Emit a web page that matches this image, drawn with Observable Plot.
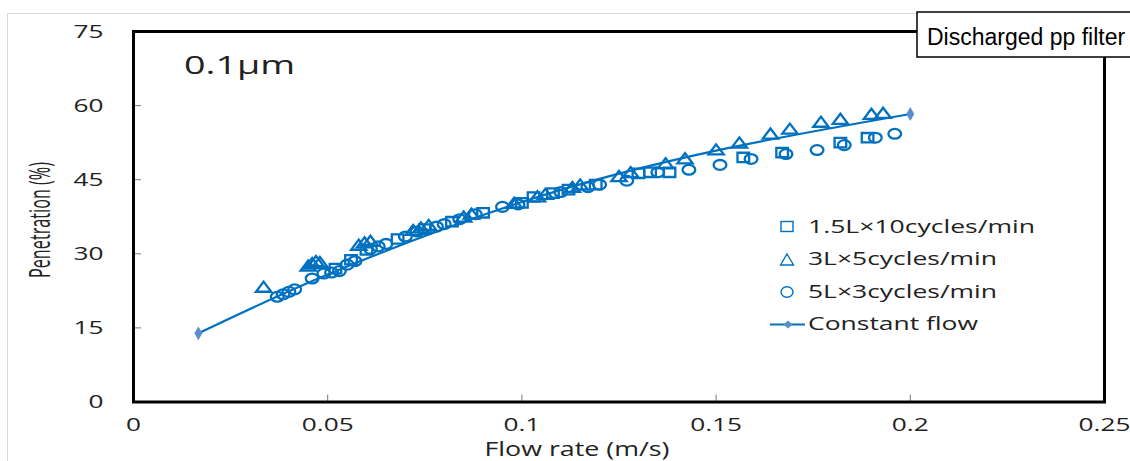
<!DOCTYPE html>
<html>
<head>
<meta charset="utf-8">
<script src="https://cdn.jsdelivr.net/npm/d3@7"></script>
<script src="https://cdn.jsdelivr.net/npm/@observablehq/plot@0.6"></script>
<style>
  body { margin: 0; background: #fff; }
  #wrap { position: relative; width: 1130px; height: 461px; overflow: hidden; background: #fff; }
  #chart { position: absolute; left: 0; top: 0; }
  #overlay { position: absolute; left: 0; top: 0; pointer-events: none; }
</style>
</head>
<body>
<div id="wrap">
  <div id="chart"></div>
  <svg id="overlay" width="1130" height="461"></svg>
</div>
<script>
// ---- data ----
const seriesNames = ["1.5L×10cycles/min", "3L×5cycles/min", "5L×3cycles/min", "Constant flow"];

const flowSquare = [0.052, 0.056, 0.060, 0.068, 0.075, 0.082, 0.090, 0.100, 0.103, 0.108, 0.112, 0.119, 0.130, 0.133, 0.138, 0.157, 0.167, 0.182, 0.189];
const penSquare  = [27.0, 28.8, 30.8, 33.0, 35.0, 36.5, 38.3, 40.3, 41.5, 42.3, 43.0, 44.0, 46.3, 46.5, 46.5, 49.5, 50.5, 52.5, 53.5];

const flowTriangle = [0.0335, 0.045, 0.046, 0.047, 0.048, 0.058, 0.0595, 0.061, 0.072, 0.074, 0.076, 0.085, 0.087, 0.098, 0.104, 0.106, 0.113, 0.115, 0.125, 0.128, 0.137, 0.142, 0.150, 0.156, 0.164, 0.169, 0.177, 0.182, 0.190, 0.193];
const penTriangle  = [23.0, 27.3, 27.8, 28.2, 28.0, 31.5, 32.0, 32.3, 34.5, 35.0, 35.5, 37.2, 37.8, 40.0, 41.3, 41.8, 43.2, 43.7, 45.4, 46.2, 48.0, 49.0, 50.8, 52.2, 54.0, 55.0, 56.4, 57.0, 58.0, 58.2];

const flowCircle = [0.037, 0.0385, 0.040, 0.0415, 0.046, 0.049, 0.051, 0.053, 0.055, 0.057, 0.061, 0.063, 0.065, 0.070, 0.073, 0.078, 0.080, 0.084, 0.088, 0.095, 0.099, 0.110, 0.117, 0.120, 0.127, 0.135, 0.143, 0.151, 0.159, 0.168, 0.176, 0.183, 0.191, 0.196];
const penCircle  = [21.3, 21.8, 22.3, 22.8, 25.0, 26.0, 26.2, 26.5, 27.8, 28.5, 31.0, 31.5, 32.0, 33.5, 34.5, 35.5, 36.0, 37.0, 38.0, 39.5, 40.0, 42.5, 43.5, 44.0, 44.8, 46.5, 47.0, 48.0, 49.2, 50.2, 51.0, 52.0, 53.5, 54.3];

const flowConstant = [0.0167, 0.05, 0.10, 0.15, 0.20];
const penConstant  = [13.9, 25.8, 40.5, 50.9, 58.3];

const xTicks = [0, 0.05, 0.1, 0.15, 0.2, 0.25];
const yTicks = [0, 15, 30, 45, 60, 75];

const xTitle = "Flow rate (m/s)";
const yTitle = "Penetration (%)";
const sizeLabel = "0.1μm";
const boxLabel = "Discharged pp filter";

// ---- build tables ----
const zip = (xs, ys) => xs.map((x, i) => ({x, y: ys[i]}));
const squares = zip(flowSquare, penSquare);
const triangles = zip(flowTriangle, penTriangle);
const circles = zip(flowCircle, penCircle);
const constant = zip(flowConstant, penConstant);

const BLUE = "#0070C0";
const DIAMOND = "#5B8FC9";
const STRETCH = 1.38;
const SX = 1.3; // horizontal stretch of marker shapes, as in the reference

// horizontally stretched symbols
const K = 0.5522847;
const ellipseSym = {draw(ctx, size) {
  const r = Math.sqrt(size / Math.PI), rx = r * SX, ry = r;
  ctx.moveTo(rx, 0);
  ctx.bezierCurveTo(rx, K * ry, K * rx, ry, 0, ry);
  ctx.bezierCurveTo(-K * rx, ry, -rx, K * ry, -rx, 0);
  ctx.bezierCurveTo(-rx, -K * ry, -K * rx, -ry, 0, -ry);
  ctx.bezierCurveTo(K * rx, -ry, rx, -K * ry, rx, 0);
  ctx.closePath();
}};
const squareSym = {draw(ctx, size) {
  const h = Math.sqrt(size) / 2, w = h * SX * 0.95;
  ctx.moveTo(-w, -h); ctx.lineTo(w, -h); ctx.lineTo(w, h); ctx.lineTo(-w, h); ctx.closePath();
}};
const triangleSym = {draw(ctx, size) {
  const s = Math.sqrt(size / (Math.sqrt(3) / 4)); // side of equilateral
  const h = s * Math.sqrt(3) / 2 * 0.8, w = s / 2 * 1.05;
  ctx.moveTo(0, -h * 2 / 3); ctx.lineTo(w, h / 3); ctx.lineTo(-w, h / 3); ctx.closePath();
}};

const plot = Plot.plot({
  width: 1130,
  height: 461,
  marginLeft: 133,
  marginRight: 26,
  marginTop: 31,
  marginBottom: 59.5,
  style: {fontFamily: "'Open Sans', sans-serif", fontSize: "19px", color: "#222", background: "transparent"},
  x: {domain: [0, 0.25]},
  y: {domain: [0, 75]},
  marks: [
    Plot.axisX({ticks: xTicks, tickSize: 0, tickPadding: 15, tickFormat: d => String(d), label: null}),
    Plot.axisY({ticks: yTicks, tickSize: 0, tickPadding: 30, tickFormat: d => String(d), label: null}),
    Plot.axisX({ticks: xTicks.slice(1, -1), tickSize: -7, stroke: "#777", tickFormat: () => "", label: null}),
    Plot.axisY({ticks: yTicks.slice(1, -1), tickSize: -8, stroke: "#777", tickFormat: () => "", label: null}),
    Plot.line(constant, {x: "x", y: "y", stroke: BLUE, strokeWidth: 2.2, curve: "natural"}),
    Plot.dot([constant[0], constant[constant.length - 1]], {x: "x", y: "y", symbol: "diamond", fill: DIAMOND, r: 4.2}),
    Plot.dot(squares, {x: "x", y: "y", symbol: squareSym, stroke: BLUE, strokeWidth: 2.3, fill: "none", r: 5.3}),
    Plot.dot(triangles, {x: "x", y: "y", symbol: triangleSym, stroke: BLUE, strokeWidth: 2.3, fill: "none", r: 5.4}),
    Plot.dot(circles, {x: "x", y: "y", symbol: ellipseSym, stroke: BLUE, strokeWidth: 2.3, fill: "none", r: 4.9}),
    Plot.frame({stroke: "black", strokeWidth: 3})
  ]
});
document.getElementById("chart").appendChild(plot);

// stretch tick labels horizontally like the reference
d3.select(plot).selectAll("g[aria-label$='tick label'] text").each(function () {
  const len = this.getComputedTextLength();
  if (len > 0) {
    this.setAttribute("textLength", (len * STRETCH).toFixed(1));
    this.setAttribute("lengthAdjust", "spacingAndGlyphs");
  }
});

// ---- overlay: frame of chart area, titles, legend, label box ----
const ov = d3.select("#overlay");
ov.append("rect").attr("x", 7.5).attr("y", 13.5).attr("width", 1200).attr("height", 600)
  .attr("fill", "none").attr("stroke", "#d9d9d9").attr("stroke-width", 1);

function txt(g, s, x, y, size, len, opts = {}) {
  const t = g.append("text").attr("x", x).attr("y", y).text(s)
    .attr("font-family", opts.family || "'Open Sans', sans-serif")
    .attr("font-size", size).attr("fill", opts.fill || "#222")
    .attr("text-anchor", opts.anchor || "start");
  if (len) t.attr("textLength", len).attr("lengthAdjust", "spacingAndGlyphs");
  if (opts.transform) t.attr("transform", opts.transform);
  return t;
}

// size label
txt(ov, sizeLabel, 184, 74, 26, 111);

// axis titles
txt(ov, xTitle, 577, 456, 20, 185, {anchor: "middle"});
txt(ov, yTitle, 0, 0, 29, 116, {anchor: "middle", transform: "translate(50,220) rotate(-90)"});

// label box
ov.append("rect").attr("x", 917).attr("y", 12).attr("width", 300).attr("height", 45)
  .attr("fill", "#fff").attr("stroke", "#000").attr("stroke-width", 1.5);
txt(ov, boxLabel, 927, 45, 23, null, {family: "'Liberation Sans', Arial, sans-serif", fill: "#000"});

// legend
const lg = ov.append("g");
const legendBase = [233, 265, 298, 330];
const legendLen = [227, 189, 189, 170];
const symCx = 787;
// square
lg.append("rect").attr("x", symCx - 6).attr("y", 221.5).attr("width", 12).attr("height", 10)
  .attr("fill", "none").attr("stroke", BLUE).attr("stroke-width", 1.4);
// triangle
lg.append("path").attr("d", `M${symCx},254 L${symCx + 6.5},265 L${symCx - 6.5},265 Z`)
  .attr("fill", "none").attr("stroke", BLUE).attr("stroke-width", 1.4);
// circle
lg.append("ellipse").attr("cx", symCx).attr("cy", 292).attr("rx", 6).attr("ry", 5.3)
  .attr("fill", "none").attr("stroke", BLUE).attr("stroke-width", 1.4);
// line + diamond
lg.append("line").attr("x1", 770).attr("x2", 805).attr("y1", 324.5).attr("y2", 324.5)
  .attr("stroke", BLUE).attr("stroke-width", 2.2);
lg.append("path").attr("d", `M${symCx + 1},320.5 L${symCx + 5.5},324.5 L${symCx + 1},328.5 L${symCx - 3.5},324.5 Z`)
  .attr("fill", DIAMOND);
seriesNames.forEach((s, i) => txt(lg, s, 808, legendBase[i], 18.5, legendLen[i]));
</script>
</body>
</html>
